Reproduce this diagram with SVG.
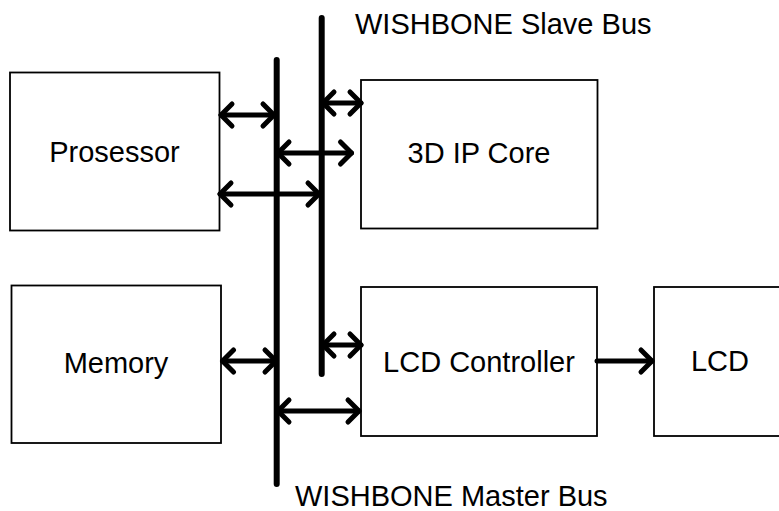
<svg xmlns="http://www.w3.org/2000/svg" width="779" height="511" viewBox="0 0 779 511">
<style>
.box{fill:#fff;stroke:#000;stroke-width:1.8}
.lbl{font-family:"Liberation Sans",Arial,sans-serif;font-size:29px;fill:#000}
.mid{text-anchor:middle}
.bus{stroke:#000;stroke-width:6;stroke-linecap:round;fill:none}
.arr{stroke:#000;stroke-width:5;fill:none;stroke-linecap:round}
</style>
<defs>
<marker id="head" viewBox="-16 -16 20 32" markerWidth="20" markerHeight="32" refX="0" refY="0" orient="auto-start-reverse" markerUnits="userSpaceOnUse">
<path d="M-11,-11 L0,0 L-11,11" fill="none" stroke="#000" stroke-width="5" stroke-linecap="round" stroke-linejoin="round"/>
</marker>
</defs>
<rect width="779" height="511" fill="#fff"/>
<g id="processor">
<rect class="box" x="10" y="72.5" width="209.5" height="158"/>
<text class="lbl mid" x="114.5" y="162">Prosessor</text>
</g>
<g id="ipcore">
<rect class="box" x="361" y="80" width="236.5" height="148.5"/>
<text class="lbl mid" x="479" y="163">3D IP Core</text>
</g>
<g id="memory">
<rect class="box" x="11.5" y="285.5" width="209.5" height="157.5"/>
<text class="lbl mid" x="116" y="373">Memory</text>
</g>
<g id="lcdctrl">
<rect class="box" x="361" y="287" width="236" height="149"/>
<text class="lbl mid" x="479" y="372">LCD Controller</text>
</g>
<g id="lcd">
<rect class="box" x="654" y="287" width="140" height="149"/>
<text class="lbl mid" x="720" y="371">LCD</text>
</g>
<g id="buses">
<line class="bus" x1="276.7" y1="60" x2="276.7" y2="484"/>
<line class="bus" x1="321.7" y1="18" x2="321.7" y2="374"/>
<text class="lbl" x="355" y="34">WISHBONE Slave Bus</text>
<text class="lbl" x="295" y="506">WISHBONE Master Bus</text>
</g>
<g id="connectors">
<line class="arr" x1="221" y1="115" x2="274" y2="115" marker-start="url(#head)" marker-end="url(#head)"/>
<line class="arr" x1="323" y1="103" x2="361" y2="103" marker-start="url(#head)" marker-end="url(#head)"/>
<line class="arr" x1="278" y1="153" x2="351.5" y2="153" marker-start="url(#head)" marker-end="url(#head)"/>
<line class="arr" x1="220" y1="194" x2="319" y2="194" marker-start="url(#head)" marker-end="url(#head)"/>
<line class="arr" x1="222.5" y1="361" x2="276" y2="361" marker-start="url(#head)" marker-end="url(#head)"/>
<line class="arr" x1="323" y1="345" x2="361" y2="345" marker-start="url(#head)" marker-end="url(#head)"/>
<line class="arr" x1="278" y1="411" x2="359" y2="411" marker-start="url(#head)" marker-end="url(#head)"/>
<line class="arr" x1="597" y1="361" x2="652" y2="361" marker-end="url(#head)"/>
</g>
</svg>
